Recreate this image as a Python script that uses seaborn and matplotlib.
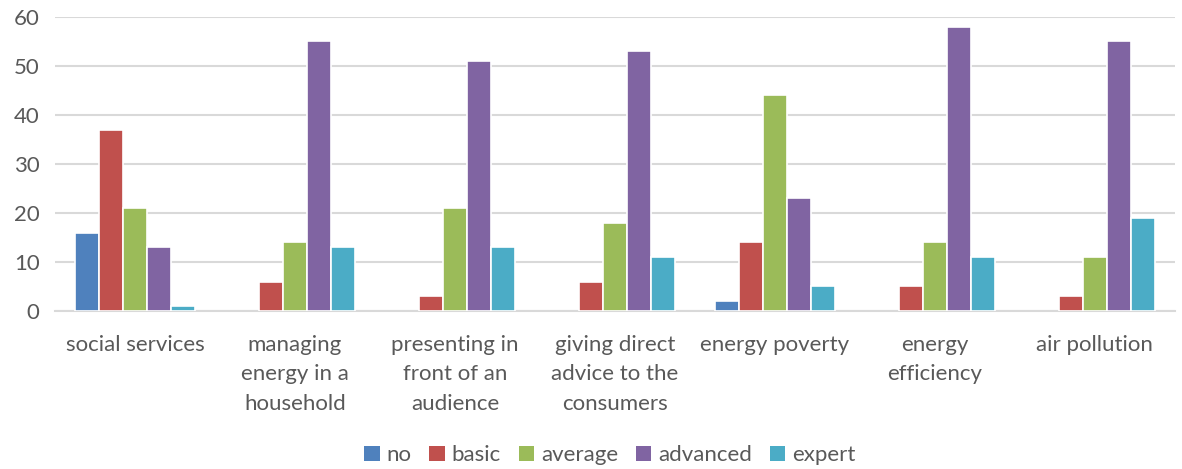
import matplotlib
matplotlib.use("Agg")
import matplotlib.pyplot as plt
from matplotlib.patches import Patch
import seaborn as sns
import pandas as pd

categories = [
    "social services",
    "managing\nenergy in a\nhousehold",
    "presenting in\nfront of an\naudience",
    "giving direct\nadvice to the\nconsumers",
    "energy poverty",
    "energy\nefficiency",
    "air pollution",
]
levels = ["no", "basic", "average", "advanced", "expert"]
no_vals = [16, 0, 0, 0, 2, 0, 0]
basic_vals = [37, 6, 3, 6, 14, 5, 3]
average_vals = [21, 14, 21, 18, 44, 14, 11]
advanced_vals = [13, 55, 51, 53, 23, 58, 55]
expert_vals = [1, 13, 13, 11, 5, 11, 19]
colors = ["#4F81BD", "#C0504D", "#9BBB59", "#8064A2", "#4BACC6"]

series = [no_vals, basic_vals, average_vals, advanced_vals, expert_vals]
rows = []
for level, vals in zip(levels, series):
    for cat, v in zip(categories, vals):
        rows.append({"category": cat, "level": level, "value": v})
df = pd.DataFrame(rows)

sns.set_theme(style="white")
plt.rcParams["font.family"] = ["Lato", "DejaVu Sans"]

fig = plt.figure(figsize=(11.82, 4.69), dpi=100)
ax = fig.add_axes([0.0465, 0.337, 0.9475, 0.627])

sns.barplot(data=df, x="category", y="value", hue="level", order=categories,
            hue_order=levels, palette=colors, width=0.75, edgecolor="white",
            linewidth=1.2, saturation=1, errorbar=None, ax=ax, zorder=3,
            legend=False)

# empty (zero) bars are not drawn
for p in ax.patches:
    if p.get_height() == 0:
        p.set_visible(False)

ax.set_ylim(0, 60)
ax.set_yticks(range(0, 61, 10))
ax.set_xlim(-0.5, len(categories) - 0.5)
ax.yaxis.grid(True, color="#D9D9D9", linewidth=1.5, zorder=0)
ax.set_axisbelow(True)
for side in ["left", "right", "top"]:
    ax.spines[side].set_visible(False)
ax.spines["bottom"].set_color("#D9D9D9")
ax.spines["bottom"].set_linewidth(1.5)
ax.set_xlabel("")
ax.set_ylabel("")
ax.tick_params(axis="both", length=0, labelsize=16, labelcolor="#595959")
ax.tick_params(axis="x", pad=17)
ax.tick_params(axis="y", pad=11)
for lbl in ax.get_xticklabels():
    lbl.set_linespacing(1.62)

handles = [Patch(facecolor=c, edgecolor="none", label=l) for c, l in zip(colors, levels)]
ax.legend(handles=handles, loc="lower center", bbox_to_anchor=(0.516, -0.035),
          bbox_transform=fig.transFigure, ncol=5, frameon=False,
          fontsize=16, labelcolor="#595959", handlelength=0.7,
          handleheight=0.7, handletextpad=0.3, columnspacing=0.8)

fig.savefig("out.png", dpi=100)
